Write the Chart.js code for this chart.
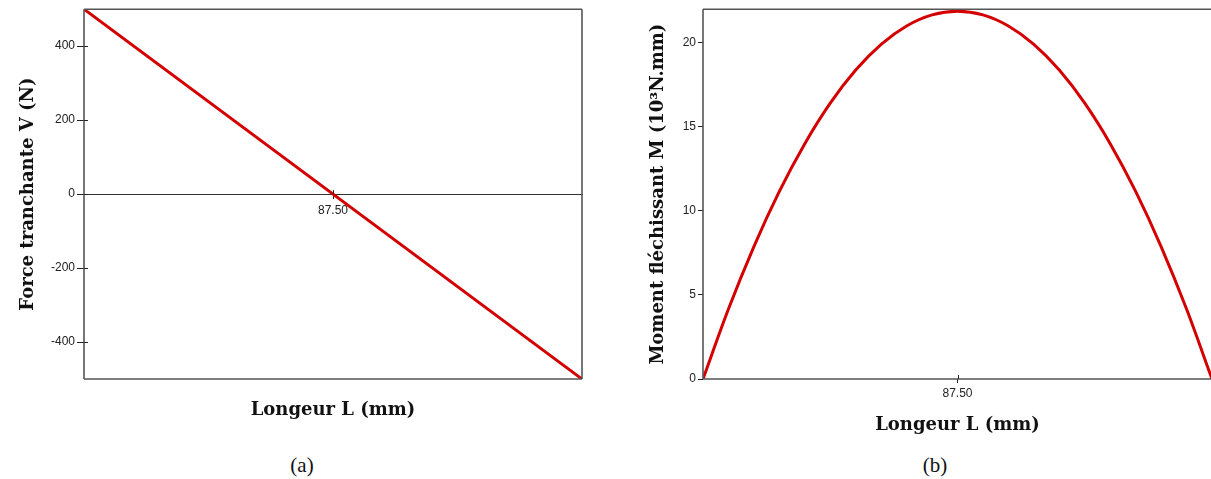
<!DOCTYPE html>
<html>
<head>
<meta charset="utf-8">
<script src="https://cdn.jsdelivr.net/npm/chart.js@4/dist/chart.umd.min.js"></script>
<style>
  body { margin: 0; background: #fff; overflow: hidden; width: 1211px; height: 479px; position: relative; }
  .box { position: absolute; top: 0; height: 440px; }
  .cap { position: absolute; font-family: "Liberation Serif", serif; font-size: 21px; color: #111; transform: translate(-50%, -50%); }
</style>
</head>
<body>
<div class="box" style="left:0;width:600px"><canvas id="shear"></canvas></div>
<div class="box" style="left:620px;width:595px"><canvas id="moment"></canvas></div>
<div class="cap" style="left:302px;top:465px">(a)</div>
<div class="cap" style="left:935px;top:465px">(b)</div>

<script>
// shear force V (N) along the beam
const shearX = [0, 175];
const shearV = [500, -500];
const shearTicks = [-400, -200, 0, 200, 400];

// bending moment M (10^3 N.mm)
const momentX = [0, 8.75, 17.5, 26.25, 35, 43.75, 52.5, 61.25, 70, 78.75, 87.5,
  96.25, 105, 113.75, 122.5, 131.25, 140, 148.75, 157.5, 166.25, 175];
const momentM = [0, 4.16, 7.88, 11.16, 14.0, 16.41, 18.38, 19.91, 21.0, 21.66, 21.88,
  21.66, 21.0, 19.91, 18.38, 16.41, 14.0, 11.16, 7.88, 4.16, 0];
const momentTicks = [0, 5, 10, 15, 20];

const midTicks = [87.5];
const lengthMax = 175;

const red = '#d40000';
const ink = '#222';
const titleFont = { family: '"DejaVu Serif", serif', size: 18, weight: 'bold' };
const tickFont = { family: '"Liberation Sans", Arial, sans-serif', size: 12 };

// box around the plot + tick marks that cross the axis line
const frame = {
  id: 'frame',
  afterDraw(chart, args, opts) {
    const { ctx, chartArea: a } = chart;
    ctx.save();
    ctx.strokeStyle = '#555';
    ctx.lineWidth = 1.6;
    ctx.beginPath();
    ctx.moveTo(a.left, a.top); ctx.lineTo(a.right + (opts.right ? 0 : 5), a.top);
    ctx.moveTo(a.left, a.top); ctx.lineTo(a.left, a.bottom);
    ctx.moveTo(a.left, a.bottom); ctx.lineTo(a.right + (opts.right ? 0 : 5), a.bottom);
    if (opts.right) { ctx.moveTo(a.right, a.top); ctx.lineTo(a.right, a.bottom); }
    ctx.stroke();
    ctx.strokeStyle = ink;
    ctx.lineWidth = 1;
    if (opts.yIn) {
      const ys = chart.scales.y;
      ys.ticks.forEach(t => {
        const p = Math.round(ys.getPixelForValue(t.value)) + 0.5;
        ctx.beginPath(); ctx.moveTo(a.left, p); ctx.lineTo(a.left + opts.yIn, p); ctx.stroke();
      });
    }
    const xs = chart.scales[opts.markAxis];
    xs.ticks.forEach(t => {
      const px = Math.round(xs.getPixelForValue(t.value)) + 0.5;
      const py = opts.markAxis === 'xz' ? chart.scales.y.getPixelForValue(0) : a.bottom;
      ctx.beginPath(); ctx.moveTo(px, py); ctx.lineTo(px, py - 4); ctx.stroke();
    });
    ctx.restore();
  }
};

function pts(xs, ys) { return xs.map((x, i) => ({ x, y: ys[i] })); }

const yTickCommon = (list) => ({
  afterBuildTicks: s => { s.ticks = list.map(v => ({ value: v })); },
  ticks: { font: tickFont, color: ink, padding: 2 },
  border: { display: false }
});

new Chart(document.getElementById('shear'), {
  type: 'line',
  data: { datasets: [{ data: pts(shearX, shearV), borderColor: red, borderWidth: 3, pointRadius: 0 }] },
  options: {
    responsive: true, maintainAspectRatio: false, animation: false,
    layout: { padding: { top: 9, right: 18, left: 0, bottom: 0 } },
    plugins: { legend: { display: false }, tooltip: { enabled: false }, frame: { right: true, yIn: 4, markAxis: 'xz' } },
    scales: {
      x: {
        type: 'linear', min: 0, max: lengthMax, position: 'bottom',
        ticks: { display: false }, grid: { display: false }, border: { display: false },
        title: { display: true, text: 'Longeur L (mm)', font: titleFont, color: '#111', padding: { top: 0, bottom: 19 } },
        afterFit: s => { s.height = 61; }
      },
      xz: {
        type: 'linear', min: 0, max: lengthMax, position: { y: 0 },
        afterBuildTicks: s => { s.ticks = midTicks.map(v => ({ value: v })); },
        ticks: { font: tickFont, color: ink, padding: 5, callback: v => v.toFixed(2) },
        grid: { drawOnChartArea: false, color: ink, tickLength: 4 },
        border: { display: true, color: '#333', width: 1 }
      },
      y: Object.assign({
        min: -500, max: 500,
        grid: { drawOnChartArea: false, color: ink, tickLength: 7 },
        title: { display: true, text: 'Force tranchante V (N)', font: titleFont, color: '#111', padding: { top: 18, bottom: 0 } },
        afterFit: s => { s.width = 84; }
      }, yTickCommon(shearTicks))
    }
  },
  plugins: [frame]
});

new Chart(document.getElementById('moment'), {
  type: 'line',
  data: { datasets: [{ data: pts(momentX, momentM), borderColor: red, borderWidth: 3, pointRadius: 0, cubicInterpolationMode: 'monotone' }] },
  options: {
    responsive: true, maintainAspectRatio: false, animation: false,
    layout: { padding: { top: 9, right: 3, left: 0, bottom: 0 } },
    plugins: { legend: { display: false }, tooltip: { enabled: false }, frame: { right: false, yIn: 0, markAxis: 'x' } },
    scales: {
      x: {
        type: 'linear', min: 0, max: lengthMax, position: 'bottom',
        afterBuildTicks: s => { s.ticks = midTicks.map(v => ({ value: v })); },
        ticks: { font: tickFont, color: ink, padding: 3, maxRotation: 0, callback: v => v.toFixed(2) },
        grid: { drawOnChartArea: false, color: ink, tickLength: 4 },
        border: { display: false },
        title: { display: true, text: 'Longeur L (mm)', font: titleFont, color: '#111', padding: { top: 0, bottom: 4 } },
        afterFit: s => { s.height = 61; }
      },
      y: Object.assign({
        min: 0, max: 22,
        grid: { drawOnChartArea: false, color: ink, tickLength: 5 },
        title: { display: true, text: 'Moment fléchissant M (10³N.mm)', font: titleFont, color: '#111', padding: { top: 28, bottom: 0 } },
        afterFit: s => { s.width = 83; }
      }, yTickCommon(momentTicks))
    }
  },
  plugins: [frame]
});
</script>
</body>
</html>
